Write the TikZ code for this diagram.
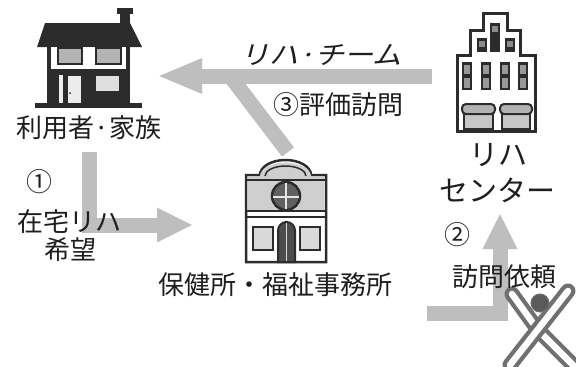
\documentclass[tikz,border=0pt]{standalone}
\usepackage{fontspec}
\usetikzlibrary{arrows.meta}
\newfontfamily\jp{Noto Sans CJK JP}
\newfontfamily\jpit{Noto Sans CJK JP}[FakeSlant=0.25, FakeStretch=1.12]
\definecolor{ink}{HTML}{1E1E1E}
\definecolor{dk}{HTML}{2C2C2C}
\definecolor{flow}{HTML}{BEBEBE}
\definecolor{pane}{HTML}{B4B4B4}
\definecolor{wall}{HTML}{CFCFCF}
\definecolor{logo}{HTML}{707070}
\tikzset{
  lbl/.style={font=\jp\fontsize{26}{30}\selectfont, text=ink, inner sep=0pt},
  biglbl/.style={font=\jp\fontsize{29}{33}\selectfont, text=ink, inner sep=0pt},
  numlbl/.style={font=\jp\fontsize{26}{30}\selectfont, text=ink, inner sep=0pt},
  teamlbl/.style={font=\jpit\fontsize{26}{30}\selectfont, text=ink, inner sep=0pt},
  flowarrow/.style={draw=flow, line width=15pt, -{Triangle[length=36pt,width=32pt]}},
  flowbar/.style={draw=flow, line width=15pt},
  outline/.style={draw=dk, line width=2.5pt},
  logoband/.style={draw=logo, line width=15pt, line cap=round, line join=round},
  logoinner/.style={draw=white, line width=6.5pt, line cap=round, line join=round},
}
\begin{document}
\begin{tikzpicture}[x=1pt,y=-1pt]
\useasboundingbox (0,0) rectangle (576,367);
\fill[white] (0,0) rectangle (576,367);

% ---------- flow arrows ----------
\coordinate (a1s) at (89.5,152);
\coordinate (a1e) at (193,225);
\draw[flowarrow] (a1s) |- (a1e);

\coordinate (a2s) at (427,313);
\coordinate (a2e) at (500,213);
\draw[flowarrow] (a2s) -| (a2e);

\coordinate (a3s) at (432,76);
\coordinate (a3e) at (157,76);
\coordinate (a3b) at (288,152);
\coordinate (a3j) at (230,76);
\draw[flowbar] (a3b) -- (a3j);
\draw[flowarrow, -{Triangle[length=45pt,width=32pt]}] (a3s) -- (a3e);

% ---------- house ----------
\fill[dk] (120,13) rectangle (130,25);
\fill[dk] (117,8) rectangle (133,14);
\fill[dk] (45,23) -- (130,23) -- (142,47) -- (37,47) -- cycle;
\fill[dk] (47,47) rectangle (130,105);
\fill[white] (51,47) rectangle (126,69);
\filldraw[fill=pane, draw=dk, line width=2.5pt] (58,48) rectangle (82,64);
\filldraw[fill=pane, draw=dk, line width=2.5pt] (96,48) rectangle (121,64);
\fill[white!85!gray] (59,75) rectangle (63,104);
\filldraw[fill=white!85!gray, draw=dk, line width=1.5pt] (67,75) rectangle (82,104);
\fill[dk] (70,93) circle[radius=1pt];
\filldraw[fill=white!75!gray, draw=dk, line width=2pt] (95,75) rectangle (120,92);
\fill[dk] (35,103) rectangle (142,108);
\node[inner sep=0pt, minimum width=107pt, minimum height=100pt] (house) at (88.5,58) {};

% ---------- rehabilitation centre ----------
\filldraw[fill=white, draw=dk, line width=3pt]
  (457,131) -- (457,55) -- (470,55) -- (470,30) -- (483,30) -- (483,13)
  -- (507,13) -- (507,30) -- (520,30) -- (520,55) -- (535,55) -- (535,131) -- cycle;
\foreach \gx/\gy in {490/23, 477/38, 505/38} {
  \fill[dk] (\gx,\gy) rectangle ({\gx+10},52);
  \fill[pane!70!dk] ({\gx+2},{\gy+3}) rectangle ({\gx+8},{\gy+9});
}
\foreach \wx in {462,481,500,518} {
  \fill[dk] (\wx,62) rectangle ({\wx+10},90);
  \fill[pane!80!dk] ({\wx+2},64.5) rectangle ({\wx+8},74);
  \fill[pane!80!dk] ({\wx+2},78) rectangle ({\wx+8},87.5);
}
\foreach \sx/\ex in {462/495, 500/532} {
  \filldraw[fill=gray!45, draw=dk, line width=1.5pt] ({\sx+2},113) rectangle ({\ex-2},129);
  \filldraw[fill=gray!60, draw=dk, line width=2pt, rounded corners=4pt] (\sx,104) rectangle (\ex,114);
}
\node[inner sep=0pt, minimum width=80pt, minimum height=120pt] (centre) at (496,72) {};

% ---------- health and welfare office ----------
\filldraw[fill=white, draw=dk, line width=2.5pt]
  (246,262) -- (246,175) -- (260,175)
  arc[start angle=180, end angle=0, x radius=25.5pt, y radius=15pt]
  -- (326,175) -- (326,262) -- cycle;
\fill[wall] (247.3,211) -- (247.3,176.3) -- (260,176.3)
  arc[start angle=180, end angle=0, x radius=25.5pt, y radius=13.7pt]
  -- (324.7,176.3) -- (324.7,211) -- cycle;
\draw[dk, line width=1.5pt] (265,176) arc[start angle=180, end angle=0, x radius=20.5pt, y radius=10pt];
\draw[dk, line width=1.2pt] (246,180) -- (326,180);
\filldraw[fill=gray!75!black, draw=dk, line width=2.5pt] (286,196) circle[radius=14pt];
\draw[white!80!gray, line width=1.2pt] (273,197) -- (299,197);
\draw[white!80!gray, line width=1.2pt] (286,183) -- (286,209);
\draw[dk, line width=2pt] (246,211) -- (326,211);
\draw[dk, line width=1.5pt] (246,217) -- (326,217);
\filldraw[fill=gray!30, draw=dk, line width=2.5pt] (253,227) rectangle (273,250);
\filldraw[fill=gray!30, draw=dk, line width=2.5pt] (300,227) rectangle (320,250);
\filldraw[fill=gray!60!black, draw=dk, line width=2pt]
  (278,262) -- (278,230.5) arc[start angle=180, end angle=0, radius=8.5pt] -- (295,262) -- cycle;
\draw[gray!30, line width=1pt] (286.5,223) -- (286.5,261);
\node[inner sep=0pt, minimum width=82pt, minimum height=104pt] (office) at (286,211) {};

% ---------- logo ----------
\begin{scope}
  \clip (0,0) rectangle (576,367);
  \draw[logoband] (512,294) -- (538,330) -- (580,372);
  \draw[logoinner] (512,294) -- (538,330) -- (580,372);
  \draw[logoband] (568,291) -- (510,365);
  \draw[logoinner] (568,291) -- (510,365);
  \filldraw[fill=logo!80!black, draw=logo, line width=1pt] (540,303) circle[radius=9pt];
\end{scope}

% ---------- labels ----------
\node[lbl] (famlbl) at (89,128) {利用者·家族};
\node[numlbl] (n1) at (39,182) {①};
\node[lbl] (want1) at (69,222) {在宅リハ};
\node[lbl] (want2) at (70,250) {希望};
\node[lbl] (officelbl) at (275,285) {保健所・福祉事務所};
\node[teamlbl] (team) at (321,55) {リハ·チーム};
\node[lbl] (visit) at (338,105) {③評価訪問};
\node[biglbl] (rc1) at (498,155) {リハ};
\node[biglbl] (rc2) at (497,190) {センター};
\node[numlbl] (n2) at (457,235) {②};
\node[lbl] (req) at (504,277) {訪問依頼};
\end{tikzpicture}
\end{document}
